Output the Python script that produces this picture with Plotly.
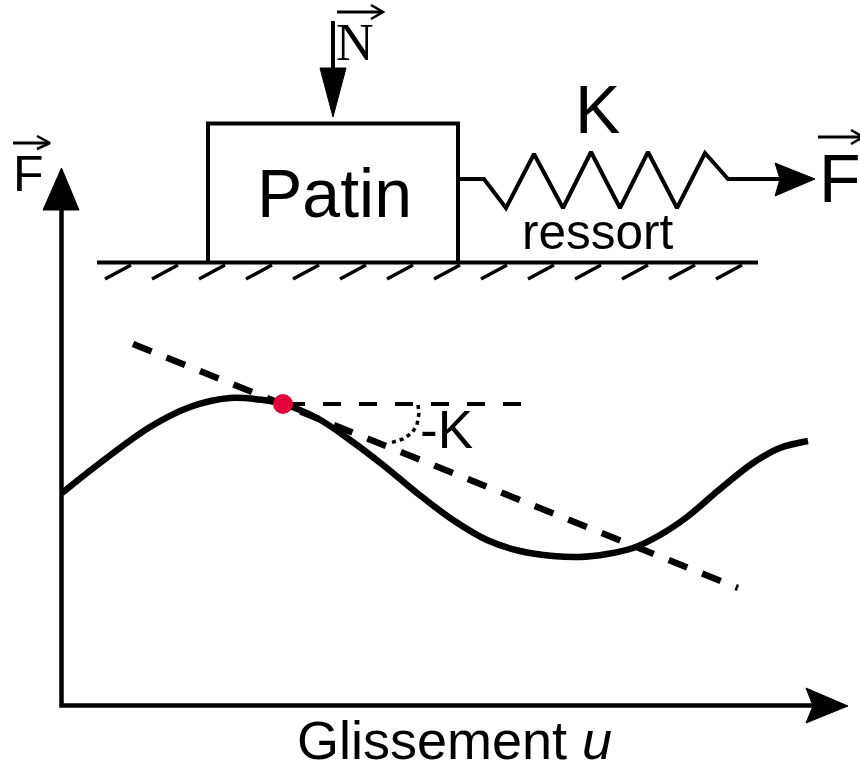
import plotly.graph_objects as go

curve_x = [62, 100, 150, 190, 230, 263, 283, 317, 350, 383, 417, 453, 487, 520, 553, 580, 607, 633, 660, 687, 720, 753, 780, 808]
curve_y = [493, 463, 427, 407, 398, 400, 404, 418, 440, 465, 493, 520, 540, 551, 556, 557, 554, 548, 535, 517, 489, 463, 448, 441]

tangent_x = [133, 738]
tangent_y = [344, 588]
tangent_end_x = [739, 737]
tangent_end_y = [585, 591]

level_x = [287, 522]
level_y = [404, 404]

angle_x = [418, 419, 417, 412, 403, 390]
angle_y = [405, 413, 425, 433, 439, 443]

point_x = [283]
point_y = [404]

axis_x = [61.5, 61.5, 815]
axis_y = [205, 705.5, 705.5]
axis_head_up_x = [43, 79, 61.5, 43]
axis_head_up_y = [210, 210, 168, 210]
axis_head_right_x = [806, 848, 806, 813, 806]
axis_head_right_y = [688, 706, 723, 706, 688]

block_x = [208, 208, 458, 458]
block_y = [262, 123.5, 123.5, 262]

ground_x = [97, 758]
ground_y = [262.5, 262.5]
hatch_starts = [105, 152, 199, 246, 293, 340, 387, 434, 481, 528, 575, 622, 669, 716]

spring_x = [458, 484, 506, 534, 563, 591, 620, 648, 677, 705, 728, 785]
spring_y = [179, 179, 208, 154, 208, 152, 208, 152, 208, 153, 179, 179]
spring_head_x = [775, 815, 775, 780, 775]
spring_head_y = [163, 179, 196, 179, 163]

normal_x = [333, 333]
normal_y = [21, 72]
normal_head_x = [320, 346, 333, 320]
normal_head_y = [68, 68, 117, 68]

vec_n = ([337, 383], [12, 12], [371, 383, 371], [5, 12, 19])
vec_f_left = ([13, 49], [143, 143], [37, 50, 37], [136, 143, 149])
vec_f_right = ([818, 860], [137, 137], [851, 863, 851], [130, 137, 144])

labels = [
    ("Patin", 334, 193, 68, "Liberation Sans"),
    ("K", 597, 109, 68, "Liberation Sans"),
    ("ressort", 597.5, 231, 49.5, "Liberation Sans"),
    ("Glissement <i>u</i>", 454.5, 740, 54, "Liberation Sans"),
    ("F", 840, 178, 68, "Liberation Sans"),
    ("F", 28.5, 174, 50, "Liberation Sans"),
    ("-K", 446, 429, 53, "Liberation Sans"),
    ("N", 355, 42, 52, "Liberation Serif"),
]


def line(x, y, width, dash="solid", color="black"):
    return go.Scatter(x=x, y=y, mode="lines", hoverinfo="skip",
                      line=dict(color=color, width=width, dash=dash))


def head(x, y):
    return go.Scatter(x=x, y=y, mode="lines", fill="toself", fillcolor="black",
                      hoverinfo="skip", line=dict(color="black", width=1))


fig = go.Figure()

fig.add_trace(line(ground_x, ground_y, 4))
for start in hatch_starts:
    fig.add_trace(line([start, start + 26], [279, 265], 3.5))
fig.add_trace(line(block_x, block_y, 4))

fig.add_trace(line(spring_x, spring_y, 4))
fig.add_trace(head(spring_head_x, spring_head_y))

fig.add_trace(line(normal_x, normal_y, 4))
fig.add_trace(head(normal_head_x, normal_head_y))

for vec in (vec_n, vec_f_left, vec_f_right):
    fig.add_trace(line(vec[0], vec[1], 3))
    fig.add_trace(line(vec[2], vec[3], 2.5))

fig.add_trace(line(axis_x, axis_y, 4.5))
fig.add_trace(head(axis_head_up_x, axis_head_up_y))
fig.add_trace(head(axis_head_right_x, axis_head_right_y))

fig.add_trace(line(tangent_x, tangent_y, 6.5, dash="20px,16.1px"))
fig.add_trace(line(tangent_end_x, tangent_end_y, 1, color="#999999"))
fig.add_trace(line(level_x, level_y, 4, dash="18px,18px"))
fig.add_trace(line(angle_x, angle_y, 3.5, dash="4px,4px"))

curve = line(curve_x, curve_y, 6.5)
curve.line.shape = "spline"
fig.add_trace(curve)

fig.add_trace(go.Scatter(x=point_x, y=point_y, mode="markers", hoverinfo="skip",
                         marker=dict(color="#E4003A", size=20, line=dict(width=0))))

for text, x, y, size, family in labels:
    fig.add_annotation(x=x, y=y, text=text, showarrow=False, xanchor="center", yanchor="middle",
                       font=dict(family=family, size=size, color="black"))

fig.update_xaxes(range=[0, 860], visible=False, fixedrange=True)
fig.update_yaxes(range=[765, 0], visible=False, fixedrange=True)
fig.update_layout(
    width=860,
    height=765,
    margin=dict(l=0, r=0, t=0, b=0),
    showlegend=False,
    plot_bgcolor="white",
    paper_bgcolor="white",
)

fig.write_html("out.html", config=dict(displayModeBar=False),
               post_script="document.body.style.margin='0';document.body.style.overflow='hidden';")
